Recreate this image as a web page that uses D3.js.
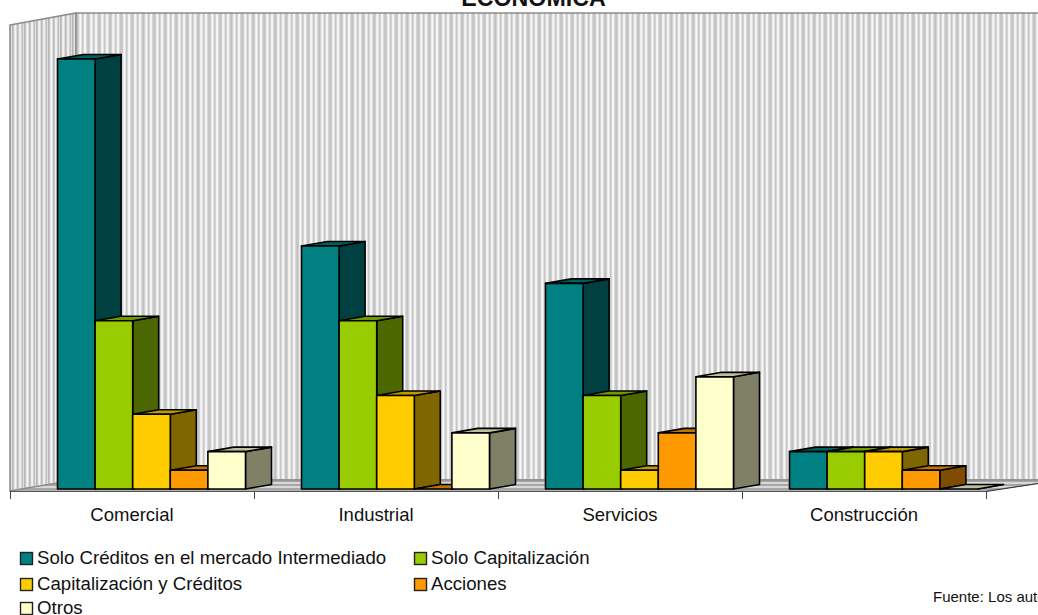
<!DOCTYPE html>
<html>
<head>
<meta charset="utf-8">
<script src="https://d3js.org/d3.v7.min.js"></script>
<style>
	html, body { margin: 0; padding: 0; background: #fff; overflow: hidden; }
	text { font-family: "Liberation Sans", Arial, sans-serif; fill: #111; }
</style>
</head>
<body>
<div id="chart-area"></div>
<script>
// Categories and series
let categories = ["Comercial", "Industrial", "Servicios", "Construcción"];
let seriesNames = ["Solo Créditos en el mercado Intermediado", "Solo Capitalización", "Capitalización y Créditos", "Acciones", "Otros"];

let soloCreditos = [23, 13, 11, 2];
let soloCapitalizacion = [9, 9, 5, 2];
let capitalizacionCreditos = [4, 5, 1, 2];
let acciones = [1, 0, 3, 1];
let otros = [2, 3, 6, 0];

let seriesValues = [soloCreditos, soloCapitalizacion, capitalizacionCreditos, acciones, otros];

let frontColors = ["#008080", "#99CC00", "#FFCC00", "#FF9900", "#FFFFCC"];
let sideColors = ["#004040", "#4C6600", "#806600", "#804C00", "#808066"];
let topColors = ["#006060", "#739900", "#BF9900", "#BF7300", "#BFBF99"];

// gray steps of the wall stripes, one pixel each
let backStripes = ["#c2c2c2", "#cfcfcf", "#ececec", "#f8f8f8", "#e2e2e2", "#c6c6c6", "#d6d6d6", "#f2f2f2", "#f6f6f6", "#d8d8d8", "#c8c8c8"];
let sideStripes = ["#b8b8b8", "#c4c4c4", "#e8e8e8", "#f4f4f4", "#dcdcdc", "#bcbcbc", "#cacaca", "#eeeeee", "#f0f0f0", "#d0d0d0", "#c0c0c0", "#e0e0e0"];

let width = 1038,
	height = 615;

let svg = d3.select("#chart-area").append("svg")
	.attr("width", width)
	.attr("height", height)
	.style("display", "block");

let defs = svg.append("defs");

function addStripes(id, stripes) {
	let pattern = defs.append("pattern")
		.attr("id", id)
		.attr("patternUnits", "userSpaceOnUse")
		.attr("width", stripes.length)
		.attr("height", 10);
	pattern.selectAll("rect").data(stripes)
		.enter()
		.append("rect")
		.attr("x", (d, i) => i)
		.attr("width", 1)
		.attr("height", 10)
		.attr("fill", d => d);
}

addStripes("wall-back", backStripes);
addStripes("wall-side", sideStripes);

let floorPattern = defs.append("pattern")
	.attr("id", "floor")
	.attr("patternUnits", "userSpaceOnUse")
	.attr("width", 10)
	.attr("height", 4);
floorPattern.append("rect").attr("width", 10).attr("height", 4).attr("fill", "#d8d8d8");
floorPattern.append("rect").attr("y", 0).attr("width", 10).attr("height", 2).attr("fill", "#a6a6a6");

// Scales
let baseY = 489,
	depthX = 26,
	depthY = 4.5;

let y = d3.scaleLinear()
	.domain([0, 23])
	.range([baseY, 59]);

let x0 = d3.scaleBand()
	.domain(categories)
	.range([10, 986]);

let x1 = d3.scaleBand()
	.domain(d3.range(seriesNames.length))
	.range([47.5, 235.5]);

// Walls and floor
let line = d3.line();

let wallTop = 13,
	wallLeft = 10,
	wallBack = 76,
	floorBack = 480,
	floorFront = 491;

svg.append("path")
	.attr("d", line([[wallLeft, 25], [wallBack, wallTop], [wallBack, floorBack], [wallLeft, floorFront]]) + "Z")
	.attr("fill", "url(#wall-side)")
	.attr("stroke", "#8c8c8c")
	.attr("stroke-width", 1.5);

svg.append("path")
	.attr("d", line([[wallBack, wallTop], [width + 10, wallTop], [width + 10, floorBack], [wallBack, floorBack]]) + "Z")
	.attr("fill", "url(#wall-back)")
	.attr("stroke", "#8c8c8c")
	.attr("stroke-width", 1.5);

svg.append("path")
	.attr("d", line([[wallLeft, floorFront], [wallBack, floorBack], [width + 10, floorBack], [width + 10, 482], [986, floorFront]]) + "Z")
	.attr("fill", "url(#floor)")
	.attr("stroke", "#888")
	.attr("stroke-width", 1);

// Category axis, ticks fall between the groups
let axis = svg.append("g")
	.attr("transform", "translate(0," + floorFront + ")")
	.call(d3.axisBottom(x0).tickSize(0).tickPadding(17));
axis.select(".domain").remove();
axis.selectAll("text")
	.style("font-family", "\"Liberation Sans\", Arial, sans-serif")
	.style("font-size", "18.5px")
	.attr("fill", "#111");

svg.append("line")
	.attr("x1", wallLeft).attr("x2", 986)
	.attr("y1", floorFront + 0.5).attr("y2", floorFront + 0.5)
	.attr("stroke", "#555")
	.attr("stroke-width", 1);

svg.selectAll(".tick-mark")
	.data(d3.range(categories.length + 1))
	.enter()
	.append("line")
	.attr("class", "tick-mark")
	.attr("x1", i => 10 + i * x0.step() + 0.5)
	.attr("x2", i => 10 + i * x0.step() + 0.5)
	.attr("y1", floorFront)
	.attr("y2", floorFront + 8)
	.attr("stroke", "#444");

svg.append("line")
	.attr("x1", 986).attr("x2", width + 10)
	.attr("y1", floorFront + 0.5).attr("y2", 482)
	.attr("stroke", "#333");

// Bars: side and top faces first so the next front covers them
let w = x1.bandwidth();
let barData = [];
categories.forEach((cat, c) => {
	seriesNames.forEach((name, s) => {
		barData.push({cat: cat, s: s, value: seriesValues[s][c]});
	});
});

let bars = svg.selectAll(".bar").data(barData)
	.enter()
	.append("g")
	.attr("class", "bar")
	.attr("stroke", "#000")
	.attr("stroke-width", 1.6)
	.attr("stroke-linejoin", "round");

bars.append("path")
	.attr("fill", d => sideColors[d.s])
	.attr("d", d => {
		let right = x0(d.cat) + x1(d.s) + w;
		return line([[right, baseY], [right + depthX, baseY - depthY], [right + depthX, y(d.value) - depthY], [right, y(d.value)]]) + "Z";
	});

bars.append("path")
	.attr("fill", d => topColors[d.s])
	.attr("d", d => {
		let left = x0(d.cat) + x1(d.s);
		let top = y(d.value);
		return line([[left, top], [left + depthX, top - depthY], [left + w + depthX, top - depthY], [left + w, top]]) + "Z";
	});

bars.append("rect")
	.attr("fill", d => frontColors[d.s])
	.attr("x", d => x0(d.cat) + x1(d.s))
	.attr("y", d => y(d.value))
	.attr("width", w)
	.attr("height", d => baseY - y(d.value));

// Title
svg.append("text")
	.attr("x", 533.5)
	.attr("y", 6)
	.attr("text-anchor", "middle")
	.style("font-weight", "bold")
	.style("font-size", "23.2px")
	.attr("fill", "#000")
	.text("ECONÓMICA");

// Legend
let legendX = [20, 414, 20, 414, 20];
let legendY = [558, 558, 584, 584, 608];

let legend = svg.selectAll(".legend-item").data(seriesNames)
	.enter()
	.append("g")
	.attr("class", "legend-item")
	.attr("transform", (d, i) => "translate(" + legendX[i] + "," + legendY[i] + ")");

legend.append("rect")
	.attr("x", 0.5)
	.attr("y", -5.5)
	.attr("width", 12)
	.attr("height", 12)
	.attr("fill", (d, i) => frontColors[i])
	.attr("stroke", "#222")
	.attr("stroke-width", 1.4);

legend.append("text")
	.attr("x", 17)
	.attr("y", 6)
	.style("font-size", "18.65px")
	.text(d => d);

// Source note, runs off the right edge
svg.append("text")
	.attr("x", 933)
	.attr("y", 602)
	.style("font-size", "15px")
	.text("Fuente: Los autores");
</script>
</body>
</html>
